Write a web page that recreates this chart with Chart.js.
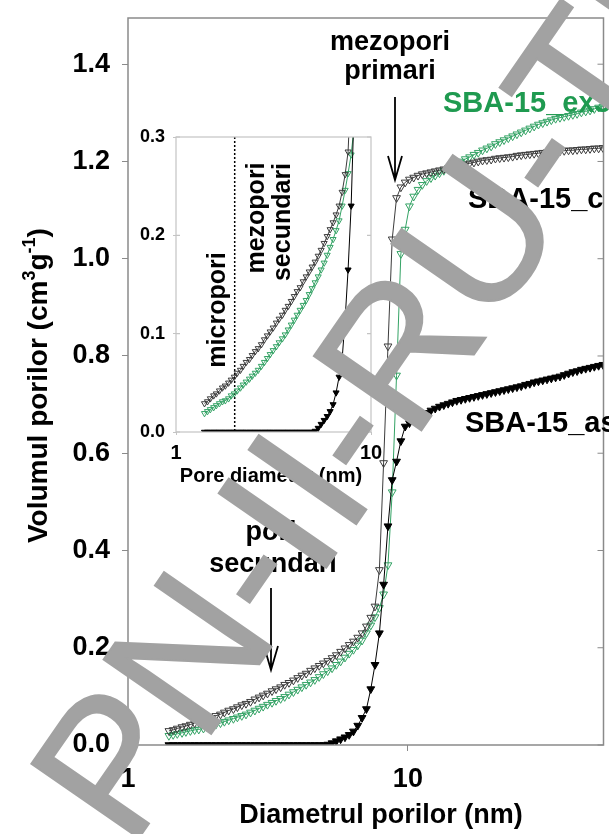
<!DOCTYPE html>
<html>
<head>
<meta charset="utf-8">
<script src="https://cdn.jsdelivr.net/npm/chart.js@4.4.1/dist/chart.umd.min.js"></script>
<style>
  html, body { margin: 0; padding: 0; background: #fff; }
  #wrap { position: relative; width: 609px; height: 834px; overflow: hidden; }
  #main { position: absolute; left: 0; top: 0; }
  #inset { position: absolute; left: 120px; top: 115px; }
  #mark { position: absolute; left: 0; top: 0; pointer-events: none; }
</style>
</head>
<body>
<div id="wrap">
  <canvas id="main" width="609" height="834"></canvas>
  <canvas id="inset" width="280" height="380"></canvas>
  <canvas id="mark" width="609" height="834"></canvas>
</div>
<script>
// pore diameter (nm)
const diameters = [1.40,1.45,1.50,1.56,1.61,1.67,1.73,1.79,1.86,1.92,
  1.99,2.06,2.14,2.21,2.29,2.38,2.46,2.55,2.64,2.74,
  2.84,2.94,3.04,3.15,3.27,3.38,3.51,3.63,3.76,3.90,
  4.04,4.18,4.33,4.49,4.65,4.82,4.99,5.17,5.36,5.55,
  5.75,5.96,6.17,6.39,6.62,6.86,7.11,7.37,7.63,7.91,
  8.19,8.49,8.79,9.11,9.44,9.78,10.13,10.49,10.87,11.26,
  11.67,12.09,12.52,12.97,13.44,13.93,14.43,14.95,15.49,16.04,
  16.62,17.22,17.84,18.48,19.15,19.84,20.55,21.29,22.06,22.85,
  23.68,24.53,25.41,26.33,27.27,28.26,29.27,30.33,31.42,32.55,
  33.72,34.94,36.19,37.50,38.85,40.24,41.69,43.19,44.75,46.36,
  48.03,49.76];

// cumulative pore volume (cm3/g)
const volAs = [0,0,0,0,0,0,0,0,0,0,
  0,0,0,0,0,0,0,0,0,0,
  0,0,0,0,0,0,0,0,0,0,
  0,0,0,0,0,0,0,0.001,0.004,0.008,
  0.012,0.016,0.021,0.028,0.040,0.056,0.074,0.115,0.165,0.230,
  0.330,0.450,0.545,0.583,0.625,0.655,0.662,0.668,0.673,0.678,
  0.683,0.688,0.692,0.696,0.699,0.702,0.705,0.708,0.710,0.712,
  0.714,0.716,0.718,0.720,0.722,0.724,0.726,0.728,0.730,0.732,
  0.734,0.736,0.738,0.741,0.743,0.746,0.748,0.750,0.752,0.754,
  0.756,0.758,0.761,0.764,0.767,0.769,0.772,0.774,0.776,0.778,
  0.780,0.782];

const volC = [0.029,0.031,0.034,0.037,0.039,0.042,0.045,0.047,0.050,0.053,
  0.056,0.060,0.063,0.067,0.071,0.074,0.078,0.082,0.085,0.089,
  0.094,0.098,0.102,0.106,0.111,0.115,0.119,0.124,0.128,0.133,
  0.138,0.143,0.147,0.153,0.158,0.163,0.168,0.173,0.179,0.185,
  0.192,0.199,0.206,0.213,0.221,0.230,0.244,0.262,0.285,0.360,
  0.580,0.820,1.040,1.125,1.147,1.157,1.163,1.167,1.171,1.174,
  1.176,1.178,1.180,1.182,1.184,1.186,1.188,1.190,1.192,1.194,
  1.196,1.198,1.200,1.202,1.203,1.204,1.206,1.207,1.208,1.209,
  1.210,1.212,1.213,1.214,1.215,1.216,1.217,1.218,1.219,1.220,
  1.220,1.221,1.222,1.223,1.223,1.224,1.225,1.225,1.226,1.227,
  1.227,1.228];

const volEx = [0.019,0.021,0.023,0.025,0.027,0.029,0.031,0.032,0.034,0.037,
  0.039,0.042,0.045,0.048,0.051,0.054,0.057,0.060,0.063,0.067,
  0.071,0.075,0.079,0.083,0.087,0.091,0.095,0.099,0.104,0.109,
  0.114,0.119,0.124,0.129,0.134,0.140,0.146,0.152,0.158,0.165,
  0.172,0.180,0.188,0.196,0.205,0.215,0.230,0.246,0.263,0.282,
  0.310,0.370,0.520,0.760,1.010,1.060,1.108,1.128,1.142,1.152,
  1.160,1.166,1.171,1.176,1.181,1.186,1.190,1.195,1.200,1.205,
  1.209,1.214,1.218,1.223,1.227,1.231,1.236,1.240,1.244,1.248,
  1.252,1.256,1.260,1.264,1.268,1.272,1.276,1.279,1.282,1.285,
  1.288,1.290,1.292,1.294,1.296,1.298,1.301,1.303,1.305,1.308,
  1.311,1.313];

const mainXTicks = [1, 10];
const mainYTicks = [0, 0.2, 0.4, 0.6, 0.8, 1.0, 1.2, 1.4];
const insetXTicks = [1, 10];
const insetYTicks = [0, 0.1, 0.2, 0.3];

const FONT = '"Liberation Sans", Arial, sans-serif';
const GREEN = '#34a365';

const toPoints = ys => diameters.map((d, i) => ({ x: d, y: ys[i] }));

function buildDatasets(r) {
  return [
    {
      label: 'SBA-15_as', data: toPoints(volAs), order: 1,
      borderColor: '#000', backgroundColor: '#000', borderWidth: 1,
      pointStyle: 'triangle', pointRotation: 180, pointRadius: r,
      pointBorderColor: '#000', pointBackgroundColor: '#000', pointBorderWidth: 1
    },
    {
      label: 'SBA-15_c', data: toPoints(volC), order: 2,
      borderColor: '#3c3c3c', borderWidth: 1,
      pointStyle: 'triangle', pointRotation: 180, pointRadius: r,
      pointBorderColor: '#3c3c3c', pointBackgroundColor: 'rgba(255,255,255,0)', pointBorderWidth: 1
    },
    {
      label: 'SBA-15_ex3', data: toPoints(volEx), order: 3,
      borderColor: GREEN, borderWidth: 1,
      pointStyle: 'triangle', pointRotation: 180, pointRadius: r,
      pointBorderColor: GREEN, pointBackgroundColor: 'rgba(255,255,255,0)', pointBorderWidth: 1
    }
  ];
}

function arrowDown(ctx, x, y0, y1) {
  ctx.beginPath();
  ctx.moveTo(x, y0); ctx.lineTo(x, y1);
  ctx.moveTo(x - 7, y1 - 24); ctx.lineTo(x, y1); ctx.lineTo(x + 7, y1 - 24);
  ctx.stroke();
}

const mainDecor = {
  id: 'mainDecor',
  afterDraw(chart) {
    const { ctx, chartArea: a, scales: { y } } = chart;
    ctx.save();
    ctx.strokeStyle = '#8a8a8a';
    ctx.lineWidth = 1.5;
    ctx.strokeRect(a.left, a.top, a.right - a.left, a.bottom - a.top);
    ctx.lineWidth = 1;
    mainYTicks.forEach(v => {
      const py = y.getPixelForValue(v);
      ctx.beginPath(); ctx.moveTo(a.right - 6, py); ctx.lineTo(a.right, py); ctx.stroke();
    });

    ctx.fillStyle = '#000';
    ctx.strokeStyle = '#000';
    ctx.lineWidth = 1.8;
    ctx.textAlign = 'center';
    ctx.textBaseline = 'alphabetic';
    ctx.font = 'bold 27px ' + FONT;
    ctx.fillText('mezopori', 390, 50);
    ctx.fillText('primari', 390, 79);
    arrowDown(ctx, 395, 97, 180);
    ctx.fillText('pori', 271, 540);
    ctx.fillText('secundari', 273, 572);
    arrowDown(ctx, 271, 588, 670);

    ctx.textAlign = 'left';
    ctx.font = 'bold 29px ' + FONT;
    ctx.fillStyle = '#1f9a50';
    ctx.fillText('SBA-15_ex3', 443, 112);
    ctx.fillStyle = '#000';
    ctx.fillText('SBA-15_c', 468, 208);
    ctx.fillText('SBA-15_as', 465, 432);

    // axis titles
    ctx.font = 'bold 27px ' + FONT;
    ctx.textAlign = 'center';
    ctx.fillText('Diametrul porilor (nm)', 381, 823);

    ctx.translate(47, 543);
    ctx.rotate(-Math.PI / 2);
    ctx.textAlign = 'left';
    let cx = 0;
    const parts = [['Volumul porilor (cm', false], ['3', true], ['g', false], ['-1', true], [')', false]];
    parts.forEach(([t, sup]) => {
      ctx.font = (sup ? 'bold 18px ' : 'bold 28px ') + FONT;
      ctx.fillText(t, cx, sup ? -12 : 0);
      cx += ctx.measureText(t).width;
    });
    ctx.restore();
  }
};

new Chart(document.getElementById('main'), {
  type: 'line',
  data: { datasets: buildDatasets(4.5) },
  options: {
    responsive: false,
    animation: false,
    layout: { padding: { top: 18, right: 3, left: 0, bottom: 0 } },
    plugins: { legend: { display: false }, tooltip: { enabled: false } },
    elements: { line: { tension: 0 } },
    scales: {
      x: {
        type: 'logarithmic', min: 1, max: 50,
        afterBuildTicks: s => { s.ticks = mainXTicks.map(v => ({ value: v })); },
        afterFit: s => { s.height = 89; s.paddingLeft = 0; s.paddingRight = 0; },
        ticks: {
          autoSkip: false, maxRotation: 0, padding: 12, color: '#000',
          font: { family: FONT, weight: 'bold', size: 27 },
          callback: v => String(v)
        },
        grid: { drawOnChartArea: false, tickLength: 6, color: '#8a8a8a' },
        border: { display: false }
      },
      y: {
        min: 0, max: 1.495,
        afterBuildTicks: s => { s.ticks = mainYTicks.map(v => ({ value: v })); },
        afterFit: s => { s.width = 128; s.paddingTop = 0; s.paddingBottom = 0; },
        ticks: {
          padding: 12, color: '#000',
          font: { family: FONT, weight: 'bold', size: 27 },
          callback: v => v.toFixed(1)
        },
        grid: { drawOnChartArea: false, tickLength: 6, color: '#8a8a8a' },
        border: { display: false }
      }
    }
  },
  plugins: [mainDecor]
});

const insetDecor = {
  id: 'insetDecor',
  beforeDatasetsDraw(chart) {
    const { ctx, chartArea: a, scales: { x } } = chart;
    ctx.save();
    ctx.fillStyle = '#fff';
    ctx.fillRect(a.left, a.top, a.right - a.left, a.bottom - a.top);
    const px = x.getPixelForValue(2);
    ctx.strokeStyle = '#000';
    ctx.lineWidth = 1.5;
    ctx.setLineDash([2, 2]);
    ctx.beginPath(); ctx.moveTo(px, a.top); ctx.lineTo(px, a.bottom); ctx.stroke();
    ctx.restore();
  },
  afterDraw(chart) {
    const { ctx, chartArea: a, scales: { y } } = chart;
    ctx.save();
    ctx.strokeStyle = '#c4c4c4';
    ctx.lineWidth = 1.2;
    ctx.strokeRect(a.left, a.top, a.right - a.left, a.bottom - a.top);
    insetYTicks.forEach(v => {
      const py = y.getPixelForValue(v);
      ctx.beginPath(); ctx.moveTo(a.left, py); ctx.lineTo(a.left + 4, py);
      ctx.moveTo(a.right - 4, py); ctx.lineTo(a.right, py); ctx.stroke();
    });
    ctx.fillStyle = '#000';
    ctx.textAlign = 'center';
    ctx.textBaseline = 'alphabetic';
    ctx.font = 'bold 20px ' + FONT;
    ctx.fillText('Pore diameter (nm)', 151, 367);

    ctx.font = 'bold 25px ' + FONT;
    ctx.textBaseline = 'middle';
    [['micropori', 98, 195], ['mezopori', 137, 103], ['secundari', 163, 107]].forEach(([t, tx, ty]) => {
      ctx.save();
      ctx.translate(tx, ty);
      ctx.rotate(-Math.PI / 2);
      ctx.fillText(t, 0, 0);
      ctx.restore();
    });
    ctx.restore();
  }
};

new Chart(document.getElementById('inset'), {
  type: 'line',
  data: { datasets: buildDatasets(3.5) },
  options: {
    responsive: false,
    animation: false,
    layout: { padding: { top: 22, right: 29, left: 0, bottom: 0 } },
    plugins: { legend: { display: false }, tooltip: { enabled: false } },
    elements: { line: { tension: 0 } },
    scales: {
      x: {
        type: 'logarithmic', min: 1, max: 10,
        afterBuildTicks: s => { s.ticks = insetXTicks.map(v => ({ value: v })); },
        afterFit: s => { s.height = 63; s.paddingLeft = 0; s.paddingRight = 0; },
        ticks: {
          autoSkip: false, maxRotation: 0, padding: 6, color: '#000',
          font: { family: FONT, weight: 'bold', size: 20 },
          callback: v => String(v)
        },
        grid: { drawOnChartArea: false, tickLength: 3, color: '#c4c4c4' },
        border: { display: false }
      },
      y: {
        min: 0, max: 0.3,
        afterBuildTicks: s => { s.ticks = insetYTicks.map(v => ({ value: v })); },
        afterFit: s => { s.width = 56; s.paddingTop = 0; s.paddingBottom = 0; },
        ticks: {
          padding: 8, color: '#000',
          font: { family: FONT, weight: 'bold', size: 18 },
          callback: v => v.toFixed(1)
        },
        grid: { drawOnChartArea: false, tickLength: 3, color: '#c4c4c4' },
        border: { display: false }
      }
    }
  },
  plugins: [insetDecor]
});

// watermark text on top
const wm = document.getElementById('mark').getContext('2d');
wm.save();
wm.translate(130, 851);
wm.rotate(-55.3 * Math.PI / 180);
wm.font = '190px ' + FONT;
wm.fillStyle = '#a2a2a2';
wm.strokeStyle = '#a2a2a2';
wm.lineWidth = 2;
wm.lineJoin = 'miter';
wm.fillText('PN-II-RU-TE', 0, 0);
wm.strokeText('PN-II-RU-TE', 0, 0);
wm.restore();
</script>
</body>
</html>
